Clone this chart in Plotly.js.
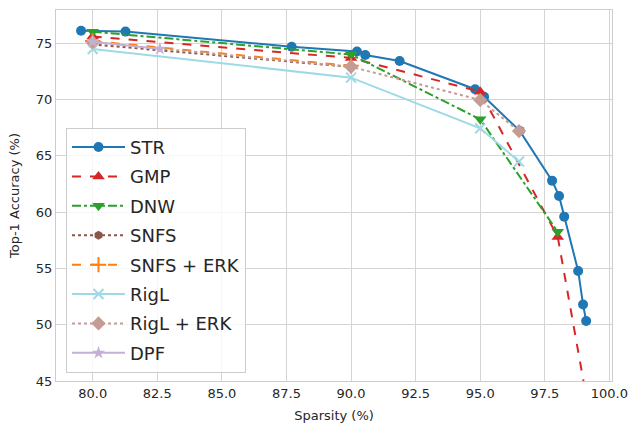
<!DOCTYPE html>
<html>
<head>
<meta charset="utf-8">
<script src="https://cdn.plot.ly/plotly-3.0.1.min.js"></script>
<style>html,body{margin:0;padding:0;background:#fff;} #chart{width:632px;height:424px;}</style>
</head>
<body>
<div id="chart"></div>
<script>
const strX = [79.55, 81.27, 87.70, 90.23, 90.55, 91.88, 94.80, 95.15, 96.53, 97.78, 98.05, 98.25, 98.79, 98.98, 99.10];
const strY = [76.12, 76.04, 74.70, 74.27, 73.96, 73.43, 70.92, 70.26, 67.22, 62.80, 61.44, 59.60, 54.78, 51.80, 50.33];
const gmpX = [80, 90, 95, 98, 99.05];
const gmpY = [75.6, 73.7, 70.7, 57.8, 44.3];
const dnwX = [80, 90, 95, 98];
const dnwY = [76.03, 74.0, 68.25, 58.25];
const snfsX = [80, 90];
const snfsY = [74.9, 72.9];
const snfsErkX = [80, 90];
const snfsErkY = [75.2, 73.0];
const riglX = [80, 90, 95, 96.5];
const riglY = [74.5, 71.95, 67.45, 64.5];
const riglErkX = [80, 90, 95, 96.5];
const riglErkY = [75.1, 72.92, 69.96, 67.2];
const dpfX = [80, 82.6];
const dpfY = [75.13, 74.5];

const names = ['STR','GMP','DNW','SNFS','SNFS + ERK','RigL','RigL + ERK','DPF'];
const xs = [strX, gmpX, dnwX, snfsX, snfsErkX, riglX, riglErkX, dpfX];
const ys = [strY, gmpY, dnwY, snfsY, snfsErkY, riglY, riglErkY, dpfY];
const colors = ['#1f77b4','#d62728','#2ca02c','#8c564b','#ff7f0e','#9edae5','#c49c94','#c5b0d5'];
const dashes = ['solid','dash','dashdot','dot','dash','solid','dot','solid'];
const symbols = ['circle','triangle-up','triangle-down','hexagon','cross-thin','x-thin','diamond','star'];
const sizes = [10, 11, 11, 9, 11, 10, 11, 10];

const traces = names.map((n, i) => ({
  x: xs[i], y: ys[i], name: n, type: 'scatter', mode: 'lines+markers',
  legendgroup: 'g' + i,
  line: {color: colors[i], width: 2, dash: dashes[i]},
  marker: {color: colors[i], symbol: symbols[i], size: sizes[i],
           line: {color: colors[i], width: (symbols[i].indexOf('thin') >= 0) ? 2 : 0}},
  cliponaxis: true
}));

const layout = {
  width: 632, height: 424,
  margin: {l: 56, r: 20, t: 10, b: 43},
  paper_bgcolor: '#ffffff', plot_bgcolor: '#ffffff',
  font: {family: 'DejaVu Sans', color: '#262626', size: 13},
  showlegend: true,
  legend: {
    x: 0.018, y: 0.022, xanchor: 'left', yanchor: 'bottom',
    bgcolor: 'rgba(255,255,255,0.8)', bordercolor: '#cccccc', borderwidth: 1,
    font: {family: 'DejaVu Sans', size: 18, color: '#262626'},
    tracegroupgap: 3, itemwidth: 53
  },
  xaxis: {
    range: [78.58, 100.1], tick0: 80, dtick: 2.5, tickformat: '.1f',
    showgrid: true, gridcolor: '#d4d4d4', gridwidth: 1,
    showline: true, mirror: true, linecolor: '#cccccc', linewidth: 1,
    zeroline: false, ticks: '', ticklen: 0,
    tickfont: {family: 'DejaVu Sans', size: 13, color: '#262626'},
    title: {text: 'Sparsity (%)', font: {family: 'DejaVu Sans', size: 13, color: '#262626'}, standoff: 11}
  },
  yaxis: {
    range: [45, 77.96], tick0: 45, dtick: 5,
    showgrid: true, gridcolor: '#d4d4d4', gridwidth: 1,
    showline: true, mirror: true, linecolor: '#cccccc', linewidth: 1,
    zeroline: false, ticks: '', ticklen: 0,
    tickfont: {family: 'DejaVu Sans', size: 13, color: '#262626'},
    title: {text: 'Top-1 Accuracy (%)', font: {family: 'DejaVu Sans', size: 13, color: '#262626'}, standoff: 13}
  }
};

Plotly.newPlot('chart', traces, layout, {displayModeBar: false, staticPlot: true});
</script>
</body>
</html>
